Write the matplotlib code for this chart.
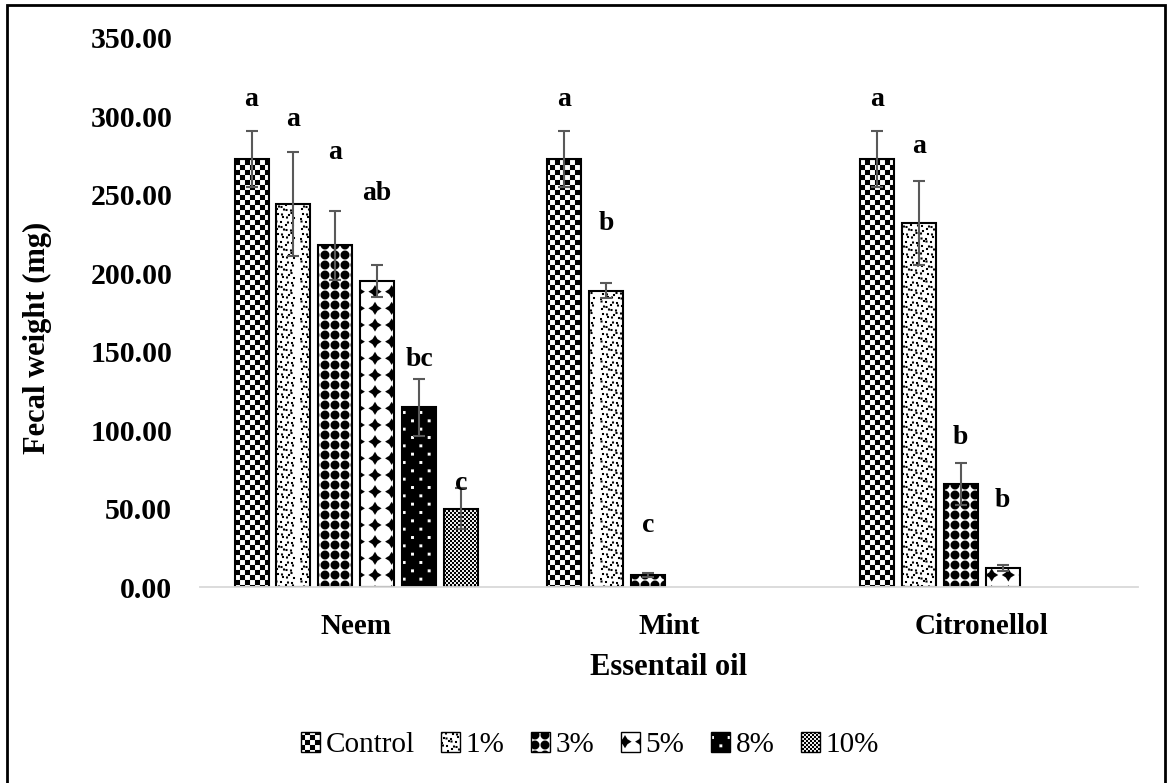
import warnings
import numpy as np
import matplotlib
matplotlib.use('Agg')
import matplotlib.pyplot as plt
import matplotlib.hatch as mhatch
from matplotlib.path import Path
from matplotlib.patches import Patch, Rectangle

warnings.filterwarnings('ignore')

# data
groups = ['Neem', 'Mint', 'Citronellol']
doses = ['Control', '1%', '3%', '5%', '8%', '10%']
nan = np.nan
control = [273, 273, 273]
d1 = [244, 189, 232]
d3 = [218, 7.6, 65.5]
d5 = [195, nan, 12]
d8 = [114.5, nan, nan]
d10 = [50, nan, nan]
err_control = [18, 18, 18]
err_d1 = [33, 5, 27]
err_d3 = [22, 1.2, 13.5]
err_d5 = [10, nan, 2]
err_d8 = [18, nan, nan]
err_d10 = [13, nan, nan]
# significance letters and the height they sit at
let_control = ['a', 'a', 'a']
let_d1 = ['a', 'b', 'a']
let_d3 = ['a', 'c', 'b']
let_d5 = ['ab', '', 'b']
let_d8 = ['bc', '', '']
let_d10 = ['c', '', '']
lpos_control = [311, 311, 311]
lpos_d1 = [298, 232, 281]
lpos_d3 = [277, 39, 95]
lpos_d5 = [251, nan, 55]
lpos_d8 = [145, nan, nan]
lpos_d10 = [66, nan, nan]

values = [control, d1, d3, d5, d8, d10]
errors = [err_control, err_d1, err_d3, err_d5, err_d8, err_d10]
letters = [let_control, let_d1, let_d3, let_d5, let_d8, let_d10]
letter_y = [lpos_control, lpos_d1, lpos_d3, lpos_d5, lpos_d8, lpos_d10]

plt.rcParams['hatch.linewidth'] = 0.05
plt.rcParams['font.family'] = ['Liberation Serif', 'DejaVu Serif']


# --- Excel-like fill patterns as custom hatches (unit tile = 1 inch) ---
def register_hatch(char, polys):
    class CustomHatch(mhatch.HatchPatternBase):
        def __init__(self, hatch, density):
            used = char in hatch
            self.num_vertices = sum(len(p) + 1 for p in polys) if used else 0

        def set_vertices_and_codes(self, vertices, codes):
            i = 0
            for p in polys:
                n = len(p)
                vertices[i:i + n] = p
                vertices[i + n] = p[0]
                codes[i] = Path.MOVETO
                codes[i + 1:i + n] = Path.LINETO
                codes[i + n] = Path.CLOSEPOLY
                i += n + 1
    mhatch._hatch_types.append(CustomHatch)


def rect(x0, y0, w, h):
    return [(x0, y0), (x0 + w, y0), (x0 + w, y0 + h), (x0, y0 + h)]


def checker(n):
    c = 1.0 / n
    return [rect(i * c, j * c, c, c) for i in range(n) for j in range(n) if (i + j) % 2 == 0]


def speckle():
    offs = [0.0, 0.02, 0.01, 0.03, 0.005]
    yoffs = [0.0, 0.01, 0.02, 0.005, 0.015]
    out = []
    for j in range(25):
        for i in range(19):
            out.append(rect(i * 0.05 + offs[(i + j) % 5],
                            j * 0.04 + yoffs[(2 * i + j) % 5], 0.02, 0.02))
    return out


def circles():
    t = np.linspace(0, 2 * np.pi, 16, endpoint=False)
    out = []
    for i in range(10):
        for j in range(10):
            cx, cy = i * 0.1 + 0.05, j * 0.1 + 0.05
            out.append(list(zip(cx + 0.045 * np.cos(t), cy + 0.045 * np.sin(t))))
    return out


def diamonds():
    ang = np.arange(8) * np.pi / 4
    rad = np.where(np.arange(8) % 2 == 0, 0.065, 0.035)
    out = []
    for i in range(6):
        for j in range(6):
            cx, cy = (i + 0.5) / 6, (j + 0.5) / 6
            out.append(list(zip(cx + rad * np.cos(ang), cy + rad * np.sin(ang))))
    return out


def dark_dots():
    out = [[(0, 0), (1, 0), (1, 1), (0, 1)]]
    s = 0.015
    for j in range(12):
        for i in range(6):
            cx = (i + 0.25 + 0.5 * (j % 2)) / 6
            cy = (j + 0.5) / 12
            out.append([(cx - s, cy - s), (cx - s, cy + s), (cx + s, cy + s), (cx + s, cy - s)])
    return out


register_hatch('k', checker(20))
register_hatch('q', speckle())
register_hatch('m', circles())
register_hatch('d', diamonds())
register_hatch('w', dark_dots())
register_hatch('g', checker(50))
patterns = ['k', 'q', 'm', 'd', 'w', 'g']

fig = plt.figure(figsize=(11.68, 7.83), dpi=100)
ax = fig.add_axes([0.1712, 0.2503, 0.8031, 0.7012])

x = np.arange(len(groups))
slot = 0.134
width = 0.109
for k, dose in enumerate(doses):
    pos = x + (k - 2.5) * slot
    ax.bar(pos, values[k], width, facecolor='white', edgecolor='black',
           linewidth=1.5, hatch=patterns[k], zorder=2)
    ax.errorbar(pos, values[k], yerr=errors[k], fmt='none', ecolor='#595959',
                elinewidth=1.5, capsize=4.5, capthick=1.5, zorder=3)
    for xi, lab, ly in zip(pos, letters[k], letter_y[k]):
        if lab:
            ax.text(xi, ly, lab, ha='center', va='center', fontsize=20,
                    fontweight='bold')

ax.set_xlim(-0.5, 2.5)
ax.set_ylim(0, 350)
ax.set_yticks(np.arange(0, 351, 50))
ax.set_yticklabels(['%.2f' % v for v in np.arange(0, 351, 50)],
                   fontsize=21.5, fontweight='bold')
ax.set_xticks(x)
ax.set_xticklabels(groups, fontsize=21, fontweight='bold')
ax.tick_params(axis='y', length=0, pad=20)
ax.tick_params(axis='x', length=0, pad=19)
for s in ['left', 'right', 'top']:
    ax.spines[s].set_visible(False)
ax.spines['bottom'].set_color('#d9d9d9')
ax.spines['bottom'].set_linewidth(1.3)

ax.set_xlabel('Essentail oil', fontsize=22, fontweight='bold')
ax.xaxis.label.set_va('center')
ax.xaxis.set_label_coords(0.5, -0.146)
ax.set_ylabel('Fecal weight (mg)', fontsize=22, fontweight='bold')
ax.yaxis.label.set_va('center')
ax.yaxis.set_label_coords(-0.173, 0.454)

handles = [Patch(facecolor='white', edgecolor='black', linewidth=1, hatch=p)
           for p in patterns]
fig.legend(handles, doses, loc='center', bbox_to_anchor=(0.505, 0.0485),
           ncol=6, frameon=False, fontsize=21, handlelength=0.65,
           handleheight=0.65, handletextpad=0.2, columnspacing=0.9)

fig.add_artist(Rectangle((7 / 1168, -0.02), 1158 / 1168, 1.02 - 5 / 783,
                         transform=fig.transFigure, fill=False,
                         edgecolor='black', linewidth=2))

fig.savefig('out.png', dpi=100)
